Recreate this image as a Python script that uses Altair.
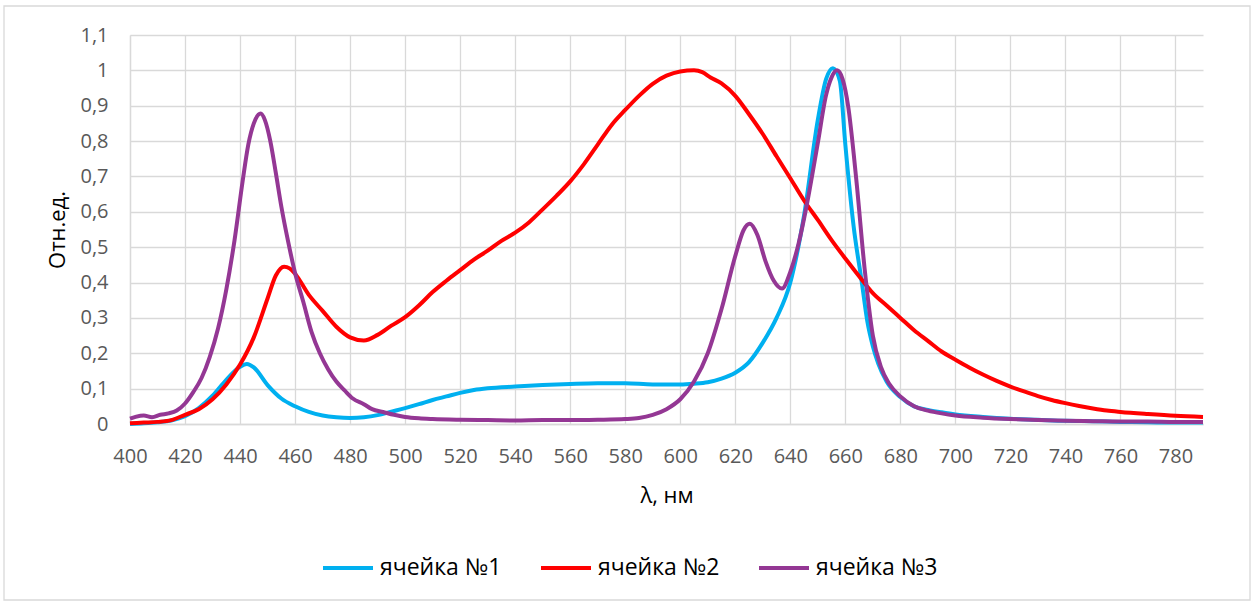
import altair as alt
import pandas as pd

# ---- data ----
wl1 = [400, 405, 410, 415, 420, 425, 430, 435, 440, 442.5, 445, 450, 455, 460, 465, 470, 475, 480,
       485, 490, 495, 500, 505, 510, 515, 520, 525, 530, 540, 550, 560, 570, 580, 590, 600, 605,
       610, 615, 620, 625, 630, 635, 640, 645, 650, 653, 655.5, 658, 660, 663, 666, 668, 670, 672,
       675, 680, 685, 690, 695, 700, 710, 720, 730, 740, 750, 760, 770, 780, 790]
v1 = [0.0, 0.002, 0.005, 0.01, 0.022, 0.045, 0.08, 0.125, 0.162, 0.170, 0.16, 0.11, 0.072, 0.05,
      0.034, 0.024, 0.019, 0.017, 0.019, 0.025, 0.035, 0.045, 0.056, 0.068, 0.078, 0.088, 0.096,
      0.101, 0.106, 0.110, 0.113, 0.115, 0.115, 0.112, 0.112, 0.114, 0.118, 0.128, 0.145, 0.175,
      0.23, 0.30, 0.40, 0.59, 0.86, 0.975, 1.006, 0.97, 0.79, 0.56, 0.40, 0.29, 0.22, 0.17, 0.12,
      0.076, 0.05, 0.04, 0.033, 0.027, 0.02, 0.015, 0.012, 0.009, 0.008, 0.006, 0.005, 0.004, 0.004]

wl2 = [400, 405, 410, 415, 420, 425, 430, 435, 440, 445, 450, 453, 456, 458, 460, 465, 470, 475,
       480, 485, 490, 495, 500, 505, 510, 515, 520, 525, 530, 535, 540, 545, 550, 555, 560, 565,
       570, 575, 580, 585, 590, 595, 600, 605, 608, 611, 615, 620, 625, 630, 635, 640, 645, 650,
       655, 660, 665, 670, 675, 680, 685, 690, 695, 700, 705, 710, 715, 720, 725, 730, 735, 740,
       745, 750, 755, 760, 770, 780, 790]
v2 = [0.002, 0.004, 0.006, 0.011, 0.026, 0.042, 0.07, 0.112, 0.168, 0.245, 0.355, 0.42, 0.445,
      0.44, 0.425, 0.365, 0.32, 0.275, 0.245, 0.236, 0.252, 0.278, 0.302, 0.335, 0.373, 0.405,
      0.435, 0.465, 0.49, 0.518, 0.541, 0.57, 0.607, 0.645, 0.686, 0.735, 0.79, 0.845, 0.888,
      0.928, 0.962, 0.985, 0.997, 1.0, 0.995, 0.98, 0.963, 0.928, 0.876, 0.82, 0.757, 0.695,
      0.632, 0.577, 0.52, 0.468, 0.418, 0.37, 0.335, 0.30, 0.265, 0.235, 0.205, 0.182, 0.16,
      0.14, 0.122, 0.106, 0.092, 0.079, 0.068, 0.059, 0.051, 0.044, 0.038, 0.034, 0.028, 0.023,
      0.02]

wl3 = [400, 402, 405, 408, 411, 414, 417, 420, 423, 426, 429, 432, 435, 438, 441, 443, 445, 447.5,
       449, 451, 453, 455, 457.5, 460, 463, 466, 469, 472, 475, 478, 481, 485, 488, 492, 496, 500,
       505, 510, 520, 530, 540, 550, 560, 570, 580, 585, 590, 595, 600, 605, 610, 615, 620, 623,
       625.3, 628, 631, 634, 637, 640, 643, 646, 650, 653, 655, 657, 659, 661, 664, 667, 670, 673,
       676, 680, 685, 690, 695, 700, 710, 720, 730, 740, 750, 760, 770, 780, 790]
v3 = [0.015, 0.02, 0.024, 0.019, 0.026, 0.03, 0.038, 0.058, 0.09, 0.13, 0.19, 0.27, 0.38, 0.52,
      0.69, 0.79, 0.85, 0.878, 0.86, 0.80, 0.71, 0.615, 0.515, 0.427, 0.345, 0.26, 0.2, 0.155,
      0.12, 0.095, 0.072, 0.056, 0.042, 0.034, 0.026, 0.02, 0.016, 0.014, 0.012, 0.011, 0.01,
      0.011, 0.011, 0.012, 0.014, 0.017, 0.026, 0.042, 0.07, 0.12, 0.2, 0.325, 0.475, 0.548,
      0.566, 0.535, 0.46, 0.405, 0.383, 0.43, 0.51, 0.62, 0.795, 0.93, 0.98, 1.0, 0.975, 0.90,
      0.69, 0.44, 0.25, 0.16, 0.113, 0.078, 0.05, 0.038, 0.03, 0.024, 0.018, 0.014, 0.011, 0.009,
      0.008, 0.007, 0.007, 0.006, 0.006]

series_names = ["ячейка №1", "ячейка №2", "ячейка №3"]
series_colors = ["#00B0F0", "#FF0000", "#943794"]
x_ticks = list(range(400, 781, 20))
y_ticks = [round(i * 0.1, 1) for i in range(12)]

rows = []
for name, xs, ys in zip(series_names, [wl1, wl2, wl3], [v1, v2, v3]):
    for a, b in zip(xs, ys):
        rows.append({"wl": a, "val": b, "series": name})
df = pd.DataFrame(rows)

FONT = "Open Sans"

lines = alt.Chart(df).mark_line(strokeWidth=4, interpolate="monotone").encode(
    x=alt.X("wl:Q",
            scale=alt.Scale(domain=[400, 790], nice=False, zero=False),
            axis=alt.Axis(values=x_ticks, title="λ, нм", labelPadding=22, labelFlush=False,
                          labelOverlap=False,
                          titleX=536.5, titleY=71, titleBaseline="middle",
                          titleAlign="center")),
    y=alt.Y("val:Q",
            scale=alt.Scale(domain=[0, 1.1], nice=False),
            axis=alt.Axis(values=y_ticks, title="Отн.ед.", format=".1~f",
                          labelExpr="replace(datum.label, '.', ',')",
                          labelPadding=22, labelFlush=False, labelOverlap=False,
                          titleX=-73, titleY=194.5,
                          titleAngle=-90, titleBaseline="middle", titleAlign="center")),
    color=alt.Color("series:N",
                    scale=alt.Scale(domain=series_names, range=series_colors),
                    legend=alt.Legend(title=None, orient="none", legendX=191, legendY=506,
                                      direction="horizontal", symbolType="stroke",
                                      symbolSize=2500, symbolStrokeWidth=4,
                                      labelOffset=5, columnPadding=31,
                                      labelFontSize=23, labelFont=FONT,
                                      labelColor="#000000", labelLimit=300)),
    order=alt.Order("wl:Q"),
)

frame = alt.Chart(pd.DataFrame({"a": [0]})).mark_rect(
    fillOpacity=0, stroke="#d9d9d9", strokeWidth=1.3
).encode(
    x=alt.value(-126), x2=alt.value(1120), y=alt.value(-29), y2=alt.value(565)
)

chart = alt.layer(frame, lines).properties(
    width=1073, height=389,
    autosize=alt.AutoSizeParams(type="none"),
    padding={"left": 130, "top": 35, "right": 56, "bottom": 178},
).configure_view(stroke=None).configure_axis(
    grid=True, gridColor="#d9d9d9", gridWidth=1.3,
    domainColor="#d9d9d9", domainWidth=1.3, ticks=False,
    labelFont=FONT, labelFontSize=20, labelColor="#595959",
    titleFont=FONT, titleFontSize=22, titleColor="#000000", titleFontWeight="normal",
)

chart.save("out.html", embed_options={"renderer": "svg", "actions": False})
